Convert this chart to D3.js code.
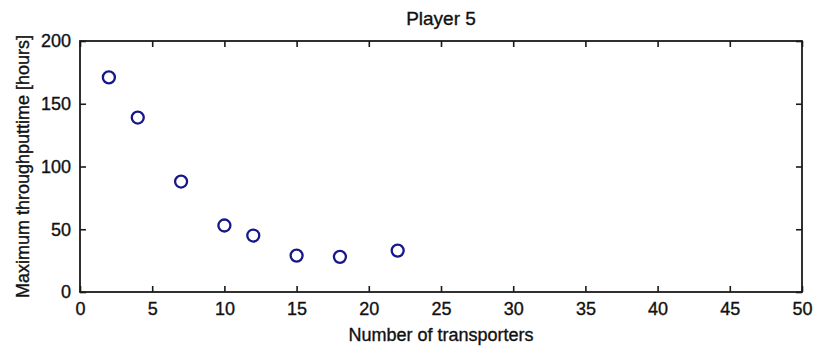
<!DOCTYPE html>
<html>
<head>
<meta charset="utf-8">
<script src="https://cdn.jsdelivr.net/npm/d3@7"></script>
<style>
  html, body { margin: 0; padding: 0; background: #fff; }
  svg { display: block; }
  text { font-family: "Liberation Sans", Arial, Helvetica, sans-serif; fill: #111; stroke: #111; stroke-width: 0.35px; }
</style>
</head>
<body>
<svg id="chart" width="813" height="350"></svg>
<script>
// Transporter counts and the resulting maximum throughput time
const transporters = [2, 4, 7, 10, 12, 15, 18, 22];
const maxThroughput = [171, 139, 88, 53, 45, 29, 28, 33];
const xTicks = [0, 5, 10, 15, 20, 25, 30, 35, 40, 45, 50];
const yTicks = [0, 50, 100, 150, 200];
const titleText = "Player 5";
const xLabel = "Number of transporters";
const yLabel = "Maximum throughputtime [hours]";

const svg = d3.select("#chart");
const W = 813, H = 350;
const m = { left: 80, right: 11, top: 41, bottom: 58 };
const x0 = m.left, x1 = W - m.right, y0 = H - m.bottom, y1 = m.top;

const x = d3.scaleLinear().domain([0, 50]).range([x0, x1]);
const y = d3.scaleLinear().domain([0, 200]).range([y0, y1]);

const frameColor = "#1a1a1a";
const tickLen = 6;

// Bottom and left axes with inward ticks
const xAxis = svg.append("g").attr("transform", `translate(0,${y0})`)
  .call(d3.axisBottom(x).tickValues(xTicks).tickSizeInner(-tickLen).tickSizeOuter(0).tickPadding(10));
const yAxis = svg.append("g").attr("transform", `translate(${x0},0)`)
  .call(d3.axisLeft(y).tickValues(yTicks).tickSizeInner(-tickLen).tickSizeOuter(0).tickPadding(9));

// Mirrored ticks on top and right edges
const xTop = svg.append("g").attr("transform", `translate(0,${y1})`)
  .call(d3.axisTop(x).tickValues(xTicks).tickSizeInner(-tickLen).tickSizeOuter(0).tickFormat(""));
const yRight = svg.append("g").attr("transform", `translate(${x1},0)`)
  .call(d3.axisRight(y).tickValues(yTicks).tickSizeInner(-tickLen).tickSizeOuter(0).tickFormat(""));

[xAxis, yAxis, xTop, yRight].forEach(g => {
  g.select(".domain").remove();
  g.selectAll(".tick line").attr("stroke", frameColor).attr("stroke-width", 1.6);
  g.selectAll(".tick text").attr("font-size", 18).attr("fill", "#111")
    .attr("font-family", '"Liberation Sans", Arial, sans-serif');
});

// Plot frame
svg.append("rect")
  .attr("x", x0).attr("y", y1)
  .attr("width", x1 - x0).attr("height", y0 - y1)
  .attr("fill", "none").attr("stroke", frameColor).attr("stroke-width", 1.8);

// Data markers
svg.append("g").selectAll("circle")
  .data(transporters.map((t, i) => ({ t, v: maxThroughput[i] })))
  .join("circle")
  .attr("cx", d => x(d.t))
  .attr("cy", d => y(d.v))
  .attr("r", 6)
  .attr("fill", "none")
  .attr("stroke", "#17178a")
  .attr("stroke-width", 2.3);

// Title and axis labels
svg.append("text")
  .attr("x", (x0 + x1) / 2).attr("y", 25)
  .attr("text-anchor", "middle").attr("font-size", 19)
  .text(titleText);

svg.append("text")
  .attr("x", (x0 + x1) / 2).attr("y", 341)
  .attr("text-anchor", "middle").attr("font-size", 18)
  .text(xLabel);

svg.append("text")
  .attr("transform", `translate(29,${(y0 + y1) / 2}) rotate(-90)`)
  .attr("text-anchor", "middle").attr("font-size", 18)
  .text(yLabel);
</script>
</body>
</html>
